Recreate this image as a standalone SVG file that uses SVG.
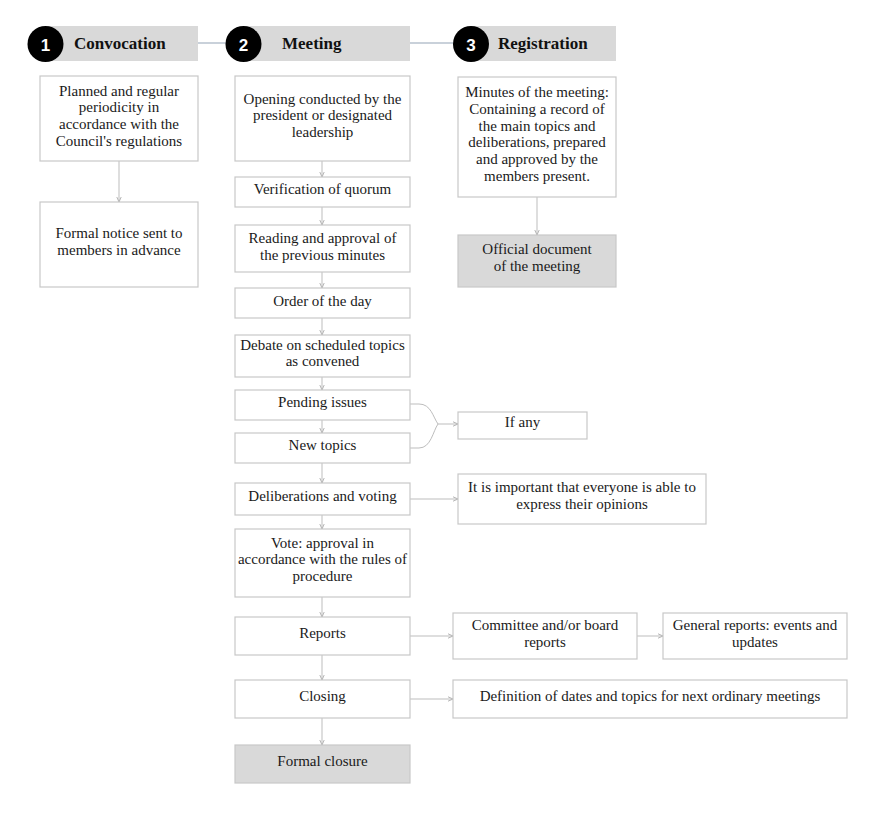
<svg xmlns="http://www.w3.org/2000/svg" width="890" height="832" viewBox="0 0 890 832">
<style>
.bg{fill:#ffffff}
.box{fill:#ffffff;stroke:#c8c8c8;stroke-width:1.2}
.gbox{fill:#d9d9d9;stroke:#c8c8c8;stroke-width:1.2}
.hdr{fill:#d9d9d9}
.t{font-family:"Liberation Serif","Times New Roman",serif;font-size:15px;fill:#1a1a1a;text-anchor:middle}
.h{font-family:"Liberation Serif","Times New Roman",serif;font-size:17px;font-weight:bold;fill:#111}
.n{font-family:"Liberation Sans",Arial,sans-serif;font-size:17px;font-weight:bold;fill:#fff;text-anchor:middle}
.c{fill:none;stroke:#bdbdbd;stroke-width:1}
.hc{fill:none;stroke:#c9d1da;stroke-width:2}
</style>
<defs>
<marker id="ar" markerWidth="6" markerHeight="6" refX="5" refY="3" orient="auto" markerUnits="userSpaceOnUse">
<path d="M0,0.8 L5,3 L0,5.2" fill="none" stroke="#b5b5b5" stroke-width="1"/>
</marker>
</defs>
<rect class="bg" x="0" y="0" width="890" height="832"/>

<g id="connectors">
<line class="hc" x1="198" y1="43" x2="226" y2="43"/>
<line class="hc" x1="410" y1="43" x2="454" y2="43"/>
<line class="c" x1="119" y1="161" x2="119" y2="202" marker-end="url(#ar)"/>
<line class="c" x1="537" y1="197" x2="537" y2="235" marker-end="url(#ar)"/>
<line class="c" x1="322" y1="161" x2="322" y2="177" marker-end="url(#ar)"/>
<line class="c" x1="322" y1="207" x2="322" y2="225" marker-end="url(#ar)"/>
<line class="c" x1="322" y1="272" x2="322" y2="288" marker-end="url(#ar)"/>
<line class="c" x1="322" y1="318" x2="322" y2="335" marker-end="url(#ar)"/>
<line class="c" x1="322" y1="377" x2="322" y2="390" marker-end="url(#ar)"/>
<line class="c" x1="322" y1="420" x2="322" y2="433" marker-end="url(#ar)"/>
<line class="c" x1="322" y1="463" x2="322" y2="483" marker-end="url(#ar)"/>
<line class="c" x1="322" y1="515" x2="322" y2="529" marker-end="url(#ar)"/>
<line class="c" x1="322" y1="597" x2="322" y2="617" marker-end="url(#ar)"/>
<line class="c" x1="322" y1="655" x2="322" y2="680" marker-end="url(#ar)"/>
<line class="c" x1="322" y1="718" x2="322" y2="745" marker-end="url(#ar)"/>
<path class="c" d="M410,404 H419 C431,404 433,417 438,424 M410,448 H419 C431,448 433,431 438,424"/>
<line class="c" x1="438" y1="424" x2="458" y2="424" marker-end="url(#ar)"/>
<line class="c" x1="410" y1="499" x2="458" y2="499" marker-end="url(#ar)"/>
<line class="c" x1="410" y1="636" x2="453" y2="636" marker-end="url(#ar)"/>
<line class="c" x1="637" y1="636" x2="663" y2="636" marker-end="url(#ar)"/>
<line class="c" x1="410" y1="699" x2="453" y2="699" marker-end="url(#ar)"/>
</g>

<g id="h1">
<rect class="hdr" x="45" y="26" width="153" height="35"/>
<circle cx="45.5" cy="44" r="18" fill="#000"/>
<text class="n" x="45.5" y="50.5">1</text>
<text class="h" x="74" y="49">Convocation</text>
</g>
<g id="h2">
<rect class="hdr" x="243" y="26" width="167" height="35"/>
<circle cx="243.5" cy="44" r="18" fill="#000"/>
<text class="n" x="243.5" y="50.5">2</text>
<text class="h" x="282" y="49">Meeting</text>
</g>
<g id="h3">
<rect class="hdr" x="471" y="26" width="145" height="35"/>
<circle cx="471" cy="44" r="18" fill="#000"/>
<text class="n" x="471" y="50.5">3</text>
<text class="h" x="498" y="49">Registration</text>
</g>

<g id="c1">
<rect class="box" x="40" y="76" width="158" height="85"/>
<text class="t"><tspan x="119" y="95.5">Planned and regular</tspan><tspan x="119" y="112.2">periodicity in</tspan><tspan x="119" y="128.9">accordance with the</tspan><tspan x="119" y="145.6">Council's regulations</tspan></text>
</g>
<g id="c2">
<rect class="box" x="40" y="202" width="158" height="85"/>
<text class="t"><tspan x="119" y="238">Formal notice sent to</tspan><tspan x="119" y="254.7">members in advance</tspan></text>
</g>

<g id="m1">
<rect class="box" x="235" y="76" width="175" height="85"/>
<text class="t"><tspan x="322.5" y="103.5">Opening conducted by the</tspan><tspan x="322.5" y="120.2">president or designated</tspan><tspan x="322.5" y="136.9">leadership</tspan></text>
</g>
<g id="m2">
<rect class="box" x="235" y="177" width="175" height="30"/>
<text class="t" x="322.5" y="194">Verification of quorum</text>
</g>
<g id="m3">
<rect class="box" x="235" y="225" width="175" height="47"/>
<text class="t"><tspan x="322.5" y="243">Reading and approval of</tspan><tspan x="322.5" y="259.7">the previous minutes</tspan></text>
</g>
<g id="m4">
<rect class="box" x="235" y="288" width="175" height="30"/>
<text class="t" x="322.5" y="305.5">Order of the day</text>
</g>
<g id="m5">
<rect class="box" x="235" y="335" width="175" height="42"/>
<text class="t"><tspan x="322.5" y="349.8">Debate on scheduled topics</tspan><tspan x="322.5" y="366">as convened</tspan></text>
</g>
<g id="m6">
<rect class="box" x="235" y="390" width="175" height="30"/>
<text class="t" x="322.5" y="406.5">Pending issues</text>
</g>
<g id="m7">
<rect class="box" x="235" y="433" width="175" height="30"/>
<text class="t" x="322.5" y="449.5">New topics</text>
</g>
<g id="m8">
<rect class="box" x="235" y="483" width="175" height="32"/>
<text class="t" x="322.5" y="500.5">Deliberations and voting</text>
</g>
<g id="m9">
<rect class="box" x="235" y="529" width="175" height="68"/>
<text class="t"><tspan x="322.5" y="547.5">Vote: approval in</tspan><tspan x="322.5" y="564">accordance with the rules of</tspan><tspan x="322.5" y="580.7">procedure</tspan></text>
</g>
<g id="m10">
<rect class="box" x="235" y="617" width="175" height="38"/>
<text class="t" x="322.5" y="638">Reports</text>
</g>
<g id="m11">
<rect class="box" x="235" y="680" width="175" height="38"/>
<text class="t" x="322.5" y="701">Closing</text>
</g>
<g id="m12">
<rect class="gbox" x="235" y="745" width="175" height="38"/>
<text class="t" x="322.5" y="765.5">Formal closure</text>
</g>

<g id="r1">
<rect class="box" x="458" y="77" width="158" height="120"/>
<text class="t"><tspan x="537" y="97.3">Minutes of the meeting:</tspan><tspan x="537" y="114">Containing a record of</tspan><tspan x="537" y="130.7">the main topics and</tspan><tspan x="537" y="147.4">deliberations, prepared</tspan><tspan x="537" y="164.1">and approved by the</tspan><tspan x="537" y="180.8">members present.</tspan></text>
</g>
<g id="r2">
<rect class="gbox" x="458" y="235" width="158" height="52"/>
<text class="t"><tspan x="537" y="254">Official document</tspan><tspan x="537" y="270.7">of the meeting</tspan></text>
</g>

<g id="s1">
<rect class="box" x="458" y="412" width="129" height="27"/>
<text class="t" x="522.5" y="427">If any</text>
</g>
<g id="s2">
<rect class="box" x="458" y="474" width="248" height="50"/>
<text class="t"><tspan x="582" y="492">It is important that everyone is able to</tspan><tspan x="582" y="508.7">express their opinions</tspan></text>
</g>
<g id="s3">
<rect class="box" x="453" y="613" width="184" height="46"/>
<text class="t"><tspan x="545" y="630">Committee and/or board</tspan><tspan x="545" y="646.7">reports</tspan></text>
</g>
<g id="s4">
<rect class="box" x="663" y="613" width="184" height="46"/>
<text class="t"><tspan x="755" y="630">General reports: events and</tspan><tspan x="755" y="646.7">updates</tspan></text>
</g>
<g id="s5">
<rect class="box" x="453" y="680" width="394" height="38"/>
<text class="t" x="650" y="701">Definition of dates and topics for next ordinary meetings</text>
</g>
</svg>
